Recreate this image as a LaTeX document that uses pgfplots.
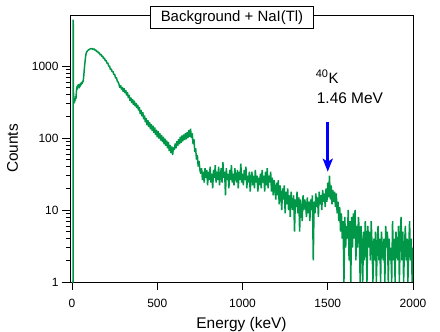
\documentclass[border=0pt]{standalone}
\usepackage{fontspec}
\setmainfont{Liberation Sans}
\usepackage{pgfplots}
\pgfplotsset{compat=1.18}
\usetikzlibrary{arrows.meta}
\definecolor{specgreen}{RGB}{0,152,72}
\definecolor{arrblue}{RGB}{0,0,255}
\begin{document}
\begin{tikzpicture}
\begin{axis}[
  scale only axis, width=343bp, height=267bp,
  xmin=-12, xmax=2000, ymode=log, ymin=1, ymax=5100,
  xtick={0,500,1000,1500,2000},
  ytick={1,10,100,1000},
  log ticks with fixed point,
  minor x tick num=0,
  tick pos=left, tick align=outside,
  major tick length=8bp, minor tick length=4bp,
  every tick/.style={black, line width=0.8bp},
  axis line style={black, line width=0.8bp},
  /pgf/number format/assume math mode=true,
  /pgf/number format/1000 sep={},
  tick label style={font=\fontsize{12}{14}\selectfont},
  label style={font=\fontsize{15.5}{18}\selectfont},
  xticklabel shift=6bp,
  xlabel shift=2bp,
  ylabel shift=7bp,
  xlabel={Energy (keV)}, ylabel={Counts},
  clip=true,
]
\addplot[specgreen, line width=1.5bp, line join=bevel] table {
0 1
6 1
7 4400
8 580
9 320
11 300
13 340
15 310
17 360
19 330
21 380
23 350
25 420
27 480
29 520
31 470
33 540
35 500
37 560
39 520
41 540
43 490
45 560
47 520
50 580
53 540
56 600
59 560
62 620
65 600
68 700
71 850
74 1020
77 1200
80 1380
83 1500
86 1570
90 1610
95 1660
100 1690
105 1720
110 1740
115 1730
120 1740
125 1680
130 1730
135 1650
140 1660
145 1580
150 1600
155 1510
160 1530
165 1420
170 1450
175 1350
180 1370
185 1260
190 1290
195 1180
200 1190
205 1090
210 1100
215 990
220 1000
225 890
230 910
235 830
240 840
245 760
250 770
255 680
260 690
265 620
270 600
275 560
280 500
285 540
290 470
295 510
300 440
305 490
310 420
315 460
320 390
325 430
330 360
335 395
340 330
345 365
350 305
355 345
360 290
365 330
370 275
375 305
380 260
385 290
390 240
395 270
400 215
405 245
410 200
415 228
420 182
425 205
430 165
435 188
440 150
445 176
450 142
455 165
460 132
465 155
470 126
475 148
480 118
485 140
490 110
495 130
500 102
505 124
510 98
515 116
520 92
525 110
530 88
535 104
540 82
545 98
550 78
555 92
560 72
565 88
570 66
575 80
580 62
585 76
590 58
595 74
600 68
605 84
610 72
615 90
620 78
625 96
630 82
635 104
640 86
645 108
650 90
655 112
660 94
665 116
670 96
675 120
680 100
685 128
690 104
695 134
700 100
705 116
710 82
715 96
720 64
725 72
730 50
735 58
740 40
745 48
750 36
755 32
760 38
765 26
770 34
775 24
780 38
785 28
790 36
795 22
800 34
805 26
810 40
815 24
820 32
825 20
830 36
835 28
840 42
845 24
850 34
855 26
860 40
865 22
870 30
875 38
880 24
885 46
890 28
895 34
900 16
905 38
910 26
915 32
920 20
925 36
930 26
935 42
940 24
945 32
950 22
955 38
960 28
965 24
970 36
975 20
980 34
985 26
990 44
995 24
1000 32
1005 22
1010 36
1015 26
1020 40
1025 20
1030 30
1035 24
1040 34
1045 18
1050 28
1055 34
1060 22
1065 30
1070 20
1075 36
1080 24
1085 30
1090 18
1095 28
1100 22
1105 32
1110 20
1115 36
1120 24
1125 30
1130 18
1135 34
1140 22
1145 38
1150 20
1155 30
1160 24
1165 34
1170 18
1175 28
1180 16
1185 26
1190 20
1195 14
1200 24
1205 16
1210 26
1215 12
1220 22
1225 16
1230 10
1235 20
1240 14
1245 22
1250 9
1255 18
1260 12
1265 20
1270 10
1275 16
1280 8
1285 18
1290 12
1295 10
1300 16
1305 5
1310 14
1315 11
1320 18
1325 9
1330 15
1335 5
1340 14
1345 11
1350 7
1355 16
1360 10
1365 14
1370 12
1375 8
1380 15
1385 9
1390 13
1395 7
1400 14
1405 10
1410 16
1415 2
1420 13
1425 9
1430 17
1435 11
1440 15
1445 8
1450 18
1455 12
1460 16
1465 10
1470 19
1475 13
1480 17
1485 11
1490 20
1495 13
1500 24
1505 15
1510 30
1515 14
1520 22
1525 12
1530 19
1535 13
1540 18
1545 11
1550 17
1555 9
1560 13
1565 7
1570 11
1575 5
1580 9
1585 4
1590 7
1595 1
1600 8
1605 3
1610 6
1615 4
1620 10
1625 2
1630 7
1635 1
1640 8
1645 3
1650 9
1655 4
1660 10
1665 2
1670 6
1675 3
1680 8
1685 5
1690 1
1695 6
1700 3
1705 1
1710 5
1715 2
1720 7
1725 4
1730 1
1735 6
1740 3
1745 5
1750 2
1755 7
1760 3
1765 1
1770 4
1775 2
1780 5
1785 1
1790 3
1795 6
1800 2
1805 4
1810 1
1815 5
1820 3
1825 2
1830 4
1835 1
1840 6
1845 3
1850 5
1855 1
1860 4
1865 2
1870 3
1875 1
1880 7
1885 2
1890 4
1895 1
1900 5
1905 3
1910 2
1915 6
1920 1
1925 4
1930 8
1935 2
1940 5
1945 1
1950 3
1955 6
1960 2
1965 4
1970 1
1975 3
1980 7
1985 2
1990 4
1995 1
2000 3
};
\draw[arrblue, line width=3bp, -{Stealth[length=13bp,width=10bp,inset=3bp]}] (axis cs:1500,165) -- (axis cs:1500,34);
\node[anchor=base west, inner sep=0pt, font=\fontsize{15}{18}\selectfont] at (axis cs:1429,578) {\textsuperscript{\fontsize{11}{12}\selectfont 40}K};
\node[anchor=base west, inner sep=0pt, font=\fontsize{15.5}{18}\selectfont] at (axis cs:1435,304) {1.46 MeV};
\end{axis}
\node[draw=black, fill=white, line width=0.8bp, font=\fontsize{15}{18}\selectfont, inner xsep=10bp, inner ysep=4bp, text height=11bp, text depth=3bp] at ([xshift=-9.5bp, yshift=-2.5bp]current axis.north) {Background + NaI(Tl)};
\pgfresetboundingbox
\path (current axis.south west) ++(-70bp,-50bp) rectangle ++(440bp,332bp);
\end{tikzpicture}
\end{document}
